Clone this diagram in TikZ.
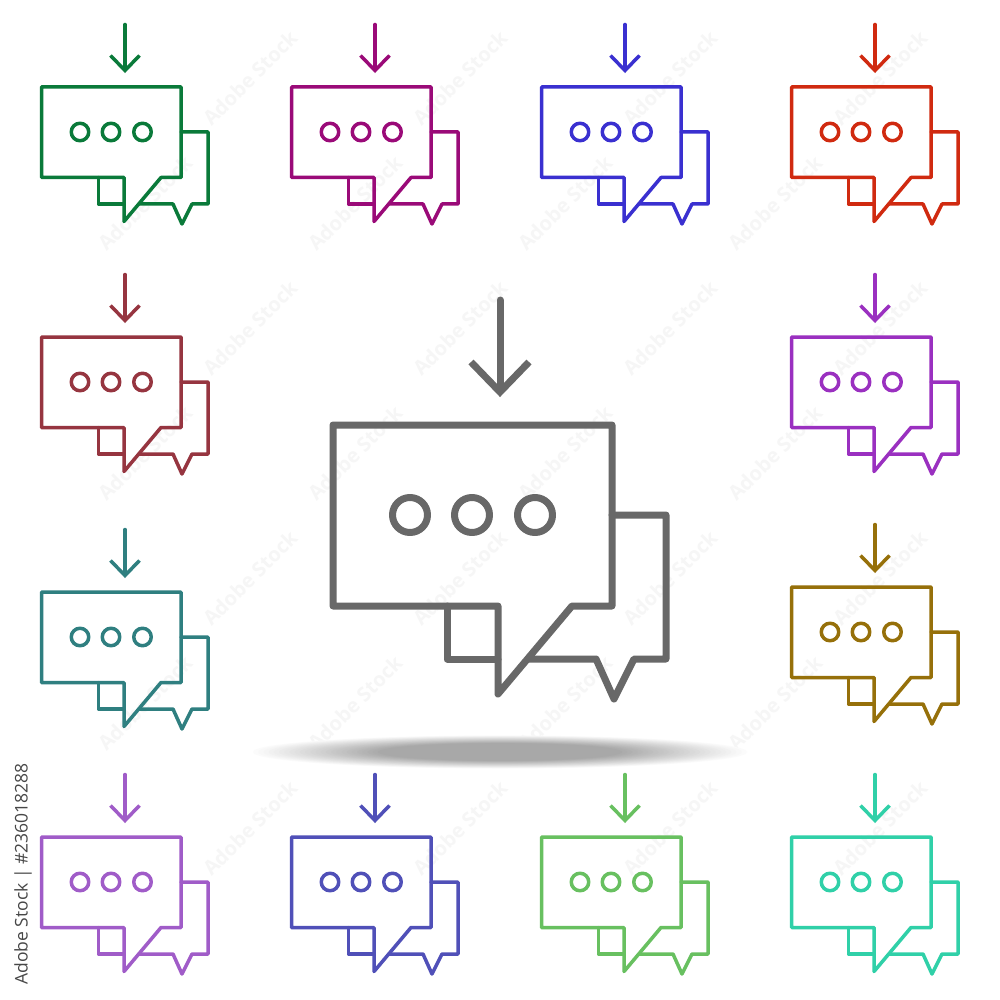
\documentclass[tikz,border=0pt]{standalone}
\usepackage{fontspec}
\setmainfont{Open Sans}
\definecolor{cgreen}{HTML}{0A7A3A}
\definecolor{cmagenta}{HTML}{9A0A78}
\definecolor{cblue}{HTML}{3A30D0}
\definecolor{cred}{HTML}{D02A10}
\definecolor{cbrick}{HTML}{963540}
\definecolor{cpurple}{HTML}{9A30C0}
\definecolor{cteal}{HTML}{2F7F80}
\definecolor{colive}{HTML}{96700A}
\definecolor{clilac}{HTML}{A05CC8}
\definecolor{cindigo}{HTML}{5050B8}
\definecolor{clime}{HTML}{68C060}
\definecolor{caqua}{HTML}{30D0A8}
\definecolor{cgrey}{HTML}{686868}
\definecolor{cwater}{HTML}{F6F6F6}
\newcommand{\chaticon}[4]{%
  \begin{scope}[shift={(#1,#2)},scale=#3,draw=#4,line width=#3*7pt,line join=round,line cap=round]
    \draw (0,0) -- (279,0) -- (279,181) -- (239,181) -- (165,269) -- (165,181) -- (0,181) -- cycle;
    \draw (279,90) -- (333,90) -- (333,234) -- (301,234) -- (281,274) -- (263,234) -- (195,234);
    \draw (165,234) -- (114,234) -- (114,181);
    \draw (77,90) circle (17.5);
    \draw (139,90) circle (17.5);
    \draw (202,90) circle (17.5);
    \draw (167,-125) -- (167,-34);
    \draw[line join=miter,line cap=butt] (138,-63) -- (167,-33) -- (196,-63);
  \end{scope}}
\begin{document}
\begin{tikzpicture}[x=1pt,y=-1pt,
  watermark/.style={text=cwater,rotate=45,font=\bfseries\fontsize{20}{20}\selectfont,inner sep=0pt},
  stamp/.style={text=black!72,rotate=90,font=\fontsize{17.5}{18}\selectfont,inner sep=0pt}]
\useasboundingbox (0,0) rectangle (1000,1000);
\fill[white] (0,0) rectangle (1000,1000);
% faint watermark, staggered rows; only those wholly inside the page
\foreach \r in {0,...,8}{
  \foreach \c in {0,...,6}{
    \pgfmathsetmacro{\wx}{40+\c*210+mod(\r,2)*105}
    \pgfmathsetmacro{\wy}{78+\r*125}
    \pgfmathparse{(\wx>55)&&(\wx<945)&&(\wy>55)&&(\wy<945)?1:0}
    \ifnum\pgfmathresult=1
      \node[watermark] (w\r x\c) at (\wx,\wy) {Adobe Stock};
    \fi
  }
}
% shadow
\foreach \t in {0,...,24}{
  \pgfmathsetmacro{\ea}{247-5.2*\t}
  \pgfmathsetmacro{\eb}{16.5-0.32*\t}
  \pgfmathsetmacro{\mx}{(\t+1)*4}
  \fill[black!34!white!\mx!white] (500,752) ellipse ({\ea} and {\eb});
}
% centre icon
\chaticon{333}{425}{1}{cgrey}
% small icons
\chaticon{41.5}{87}{0.5}{cgreen}
\chaticon{291.5}{87}{0.5}{cmagenta}
\chaticon{541.5}{87}{0.5}{cblue}
\chaticon{791.5}{87}{0.5}{cred}
\chaticon{41.5}{337}{0.5}{cbrick}
\chaticon{791.5}{337}{0.5}{cpurple}
\chaticon{41.5}{592}{0.5}{cteal}
\chaticon{791.5}{587}{0.5}{colive}
\chaticon{41.5}{837}{0.5}{clilac}
\chaticon{291.5}{837}{0.5}{cindigo}
\chaticon{541.5}{837}{0.5}{clime}
\chaticon{791.5}{837}{0.5}{caqua}
\node[stamp] (stamp) at (23,874) {Adobe Stock | \#236018288};
\end{tikzpicture}
\end{document}
